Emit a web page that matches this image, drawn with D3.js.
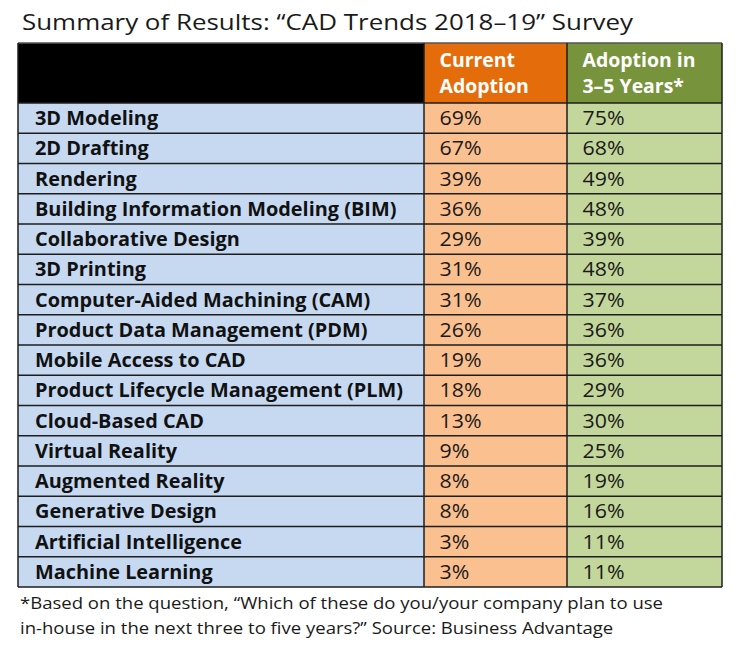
<!DOCTYPE html>
<html>
<head>
<meta charset="utf-8">
<script src="https://cdn.jsdelivr.net/npm/d3@7"></script>
<style>
  html, body { margin: 0; padding: 0; background: #fff; }
  svg { display: block; }
  text { font-family: "Open Sans", "Noto Sans", sans-serif; }
</style>
</head>
<body>
<svg id="chart" width="750" height="660"></svg>
<script>
const title = "Summary of Results: \u201CCAD Trends 2018\u201319\u201D  Survey";
const categories = [
  "3D Modeling", "2D Drafting", "Rendering", "Building Information Modeling (BIM)",
  "Collaborative Design", "3D Printing", "Computer-Aided Machining (CAM)",
  "Product Data Management (PDM)", "Mobile Access to CAD",
  "Product Lifecycle Management (PLM)", "Cloud-Based CAD", "Virtual Reality",
  "Augmented Reality", "Generative Design", "Artificial Intelligence", "Machine Learning"
];
const currentAdoption = [69, 67, 39, 36, 29, 31, 31, 26, 19, 18, 13, 9, 8, 8, 3, 3];
const futureAdoption  = [75, 68, 49, 48, 39, 48, 37, 36, 36, 29, 30, 25, 19, 16, 11, 11];
const headerCurrent = ["Current", "Adoption"];
const headerFuture  = ["Adoption in", "3\u20135 Years*"];
const footnote = [
  "*Based on the question, \u201CWhich of these do you/your company plan to use",
  "in-house in the next three to five years?\u201D Source: Business Advantage"
];

const svg = d3.select("#chart");
const colKeys = ["label", "current", "future", "end"];
const x = d3.scaleOrdinal().domain(colKeys).range([18, 424, 567, 722]);
const tableTop = 43, headerBottom = 103, tableBottom = 587;
const y = d3.scaleBand().domain(categories).range([headerBottom, tableBottom]).padding(0);

const colFill = { label: "#C6D9F1", current: "#FAC090", future: "#C3D69B" };
const headFill = { label: "#000000", current: "#E46C0A", future: "#77933C" };
const borderColor = "#1e1e1e";

// condense/stretch a group of texts so that a reference string gets a given width
function fit(sel, refWidth, refNatural) {
  const f = refWidth / refNatural;
  sel.each(function () {
    const w = this.getComputedTextLength();
    d3.select(this).attr("textLength", w * f).attr("lengthAdjust", "spacingAndGlyphs");
  });
}

// title
const titleT = svg.append("text")
  .attr("x", 22).attr("y", 30)
  .attr("font-size", 21).attr("fill", "#1a1a1a")
  .text(title);
fit(titleT, 611, titleT.node().getComputedTextLength());

const cols = colKeys.slice(0, 3);
const next = k => colKeys[colKeys.indexOf(k) + 1];

// header cells
svg.append("g").selectAll("rect").data(cols).join("rect")
  .attr("x", d => x(d)).attr("y", tableTop)
  .attr("width", d => x(next(d)) - x(d)).attr("height", headerBottom - tableTop)
  .attr("fill", d => headFill[d]);

// body cells
const rows = categories.map((c, i) => ({ label: c, current: currentAdoption[i], future: futureAdoption[i] }));
const cellData = [];
rows.forEach(r => cols.forEach(k => cellData.push({ row: r.label, col: k, value: r[k] })));
svg.append("g").selectAll("rect").data(cellData).join("rect")
  .attr("x", d => x(d.col)).attr("y", d => y(d.row))
  .attr("width", d => x(next(d.col)) - x(d.col)).attr("height", y.bandwidth())
  .attr("fill", d => colFill[d.col]);

// grid lines
const grid = svg.append("g").attr("stroke", borderColor).attr("stroke-width", 1.5);
grid.selectAll("line.h").data([tableTop, ...categories.map(c => y(c)), tableBottom]).join("line")
  .attr("x1", x("label")).attr("x2", x("end"))
  .attr("y1", d => d).attr("y2", d => d)
  .attr("stroke", (d, i) => i === 0 ? "#555" : borderColor);
grid.selectAll("line.v").data(colKeys).join("line")
  .attr("x1", d => x(d)).attr("x2", d => x(d))
  .attr("y1", tableTop).attr("y2", tableBottom);

// header text
const headG = svg.append("g").attr("fill", "#fff").attr("font-weight", "bold").attr("font-size", 19.5);
[["current", headerCurrent], ["future", headerFuture]].forEach(([k, lines]) => {
  lines.forEach((t, i) => {
    headG.append("text").attr("x", x(k) + 15.5).attr("y", 66.5 + i * 26).text(t);
  });
});
const headTexts = headG.selectAll("text");
const refHead = headTexts.filter(function () { return this.textContent === "Adoption in"; }).node();
fit(headTexts, 113, refHead.getComputedTextLength());

// labels
const labelTexts = svg.append("g").selectAll("text").data(rows).join("text")
  .attr("x", x("label") + 17)
  .attr("y", d => y(d.label) + y.bandwidth() / 2 + 7)
  .attr("font-size", 19.5).attr("font-weight", "bold").attr("fill", "#111")
  .text(d => d.label);
const refLabel = labelTexts.filter(d => d.label === "Product Lifecycle Management (PLM)").node();
fit(labelTexts, 368, refLabel.getComputedTextLength());

// values
const valG = svg.append("g");
["current", "future"].forEach(k => {
  valG.append("g").selectAll("text").data(rows).join("text")
    .attr("x", x(k) + 15.5)
    .attr("y", d => y(d.label) + y.bandwidth() / 2 + 7)
    .attr("font-size", 19.5).attr("fill", "#1a1a1a")
    .text(d => d[k] + "%");
});
const valTexts = valG.selectAll("text");
fit(valTexts, 42, valTexts.node().getComputedTextLength());

// footnote
const footTexts = svg.append("g").selectAll("text").data(footnote).join("text")
  .attr("x", 20).attr("y", (d, i) => 609 + i * 25)
  .attr("font-size", 17).attr("fill", "#1a1a1a")
  .text(d => d);
fit(footTexts, 643, footTexts.node().getComputedTextLength());
</script>
</body>
</html>
